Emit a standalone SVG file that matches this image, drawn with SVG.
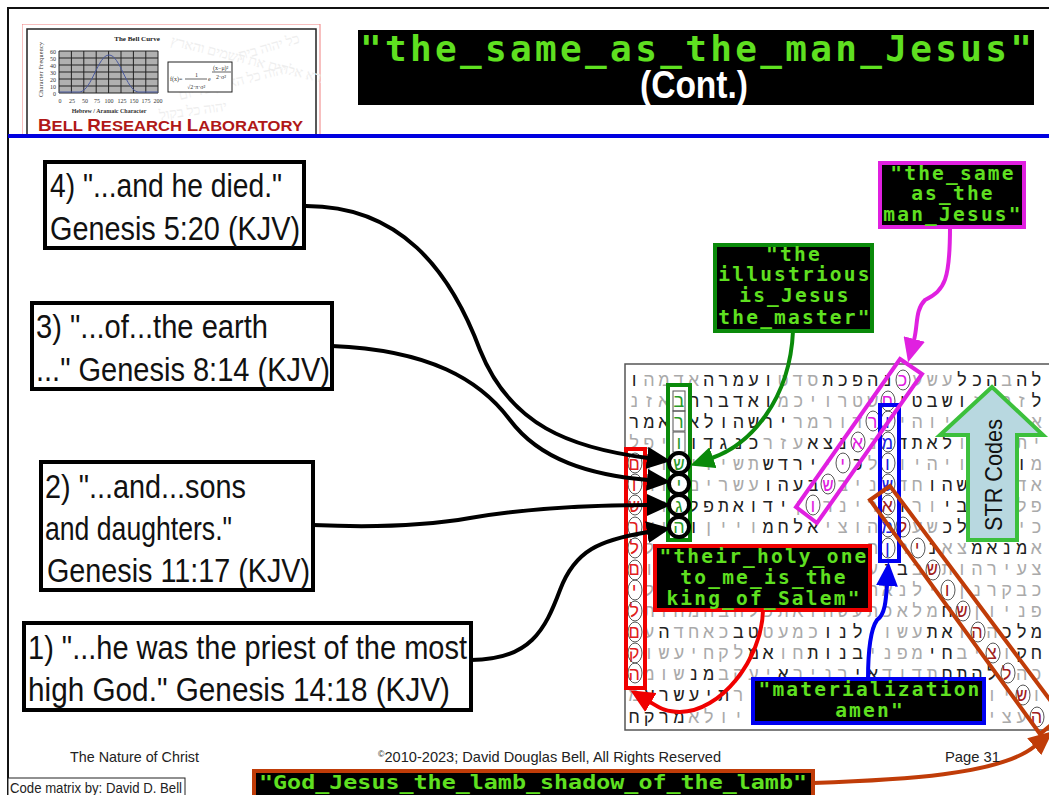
<svg xmlns="http://www.w3.org/2000/svg" width="1049" height="795" viewBox="0 0 1049 795">
<style>
.ref{font-family:"Liberation Sans",Arial,sans-serif;font-size:33px;fill:#111}
.box{fill:#fff;stroke:#000;stroke-width:4}
.lab{fill:#000;stroke-width:4}
.code{font-family:"DejaVu Sans Mono",monospace;font-weight:bold;font-size:19.500px;letter-spacing:2.200px;fill:#5fe020;text-anchor:middle}
.heb{font-family:"Liberation Mono","DejaVu Sans Mono",monospace;font-size:18px;letter-spacing:4.100px;fill:#222;direction:rtl;unicode-bidi:embed}
.heb .g{fill:#aaa}
.heb .m{fill:#e020e0}.heb .r{fill:#e02020}.heb .b{fill:#2020e0}.heb .v{fill:#2a9a2a}.heb .o{fill:#a02020}
.cell{fill:none;stroke:#555;stroke-width:1}
.hole{fill:none;stroke:#000;stroke-width:4}
.line{fill:none;stroke-width:4}
.foot{font-family:"Liberation Sans",Arial,sans-serif;font-size:15px;fill:#222}
.tiny{font-family:"Liberation Serif",serif;font-size:6px;fill:#333}
.wm{font-family:"Liberation Serif","DejaVu Sans",serif;font-size:14px;fill:#eeeeee}
.frame{stroke-width:4;fill:none}
</style>
<defs>
<marker id="hk" markerUnits="userSpaceOnUse" markerWidth="24" markerHeight="22" refX="1" refY="11" orient="auto"><path d="M0 0L24 11L0 22z" fill="#000"/></marker>
<marker id="hg" markerUnits="userSpaceOnUse" markerWidth="24" markerHeight="22" refX="1" refY="11" orient="auto"><path d="M0 0L24 11L0 22z" fill="#0a8a0a"/></marker>
<marker id="hm" markerUnits="userSpaceOnUse" markerWidth="24" markerHeight="22" refX="1" refY="11" orient="auto"><path d="M0 0L24 11L0 22z" fill="#e020e0"/></marker>
<marker id="hb" markerUnits="userSpaceOnUse" markerWidth="24" markerHeight="22" refX="1" refY="11" orient="auto"><path d="M0 0L24 11L0 22z" fill="#0000f0"/></marker>
<marker id="hr" markerUnits="userSpaceOnUse" markerWidth="24" markerHeight="22" refX="1" refY="11" orient="auto"><path d="M0 0L24 11L0 22z" fill="#f00000"/></marker>
<marker id="ho" markerUnits="userSpaceOnUse" markerWidth="24" markerHeight="22" refX="1" refY="11" orient="auto"><path d="M0 0L24 11L0 22z" fill="#c03c08"/></marker>
<clipPath id="lc"><rect x="22" y="24" width="299" height="111"/></clipPath>
</defs>
<rect width="1049" height="795" fill="#fff"/>

<g id="logo" clip-path="url(#lc)">
<rect x="22" y="24" width="298" height="120" fill="#fff" stroke="#f08080" stroke-width="1"/>
<rect x="27" y="29" width="289" height="120" fill="#fff" stroke="#222" stroke-width="1.500"/>
<g class="wm">
<text transform="translate(170 45) rotate(14)">ברא אלהים את השמים והארץ</text>
<text transform="translate(180 100) rotate(-14)">יהוה כל הארץ כל יום</text>
<text transform="translate(240 60) rotate(-16)">כל יהוה בית</text>
<text transform="translate(160 120) rotate(-8)">יהוה כל בקול</text>
</g>
<text x="137" y="41" text-anchor="middle" font-family="Liberation Serif,serif" font-weight="bold" font-size="7px" fill="#222">The Bell Curve</text>
<rect x="59" y="51" width="99" height="42" fill="#b0b0b0"/>
<path d="M59 51V93M71.400 51V93M83.800 51V93M96.200 51V93M108.600 51V93M121 51V93M133.400 51V93M145.800 51V93M158 51V93M59 51H158M59 58H158M59 65H158M59 72H158M59 79H158M59 86H158M59 93H158" stroke="#222" stroke-width="1" fill="none"/>
<path d="M59 92H80C92 90 98 55 109 55C120 55 126 90 138 92H158" fill="none" stroke="#4a5aa0" stroke-width="1"/>
<text class="tiny" transform="translate(43 97) rotate(-90)" textLength="55">Character Frequency</text>
<g class="tiny" text-anchor="end">
<text x="56" y="54">60</text><text x="56" y="61">50</text><text x="56" y="68">40</text><text x="56" y="75">30</text><text x="56" y="82">20</text><text x="56" y="89">10</text><text x="56" y="96">0</text>
</g>
<g class="tiny" text-anchor="middle">
<text x="60" y="103">0</text><text x="72" y="103">25</text><text x="85" y="103">50</text><text x="97" y="103">75</text><text x="109" y="103">100</text><text x="122" y="103">125</text><text x="134" y="103">150</text><text x="146" y="103">175</text><text x="158" y="103">200</text>
<text x="109" y="113" font-weight="bold">Hebrew / Aramaic Character</text>
</g>
<rect x="168" y="62" width="64" height="30" fill="#fff" stroke="#222" stroke-width="1"/>
<text class="tiny" x="170" y="81">f(x)=</text>
<text class="tiny" x="195" y="77">1</text>
<path d="M185 79H207M212 72H231" stroke="#222" stroke-width=".7"/>
<text class="tiny" x="187" y="89">√2·π·σ²</text>
<text class="tiny" x="208" y="81">e</text>
<text class="tiny" x="213" y="70">(x−μ)²</text>
<text class="tiny" x="216" y="79">2·σ²</text>
<text x="38" y="131" font-family="Liberation Sans,sans-serif" font-weight="bold" font-size="15px" fill="#b01818" textLength="265" lengthAdjust="spacingAndGlyphs"><tspan font-size="17px">B</tspan>ELL <tspan font-size="17px">R</tspan>ESEARCH <tspan font-size="17px">L</tspan>ABORATORY</text>
</g>

<path id="slide-frame" d="M8 795V8H1049" fill="none" stroke="#111" stroke-width="2"/>
<rect id="rule" x="8" y="134" width="1041" height="4" fill="#0000e0"/>

<g id="title">
<rect x="358" y="30" width="676" height="75" fill="#000"/>
<text x="696" y="61" font-family="DejaVu Sans Mono,monospace" font-weight="bold" font-size="36px" fill="#5fe020" text-anchor="middle" textLength="672" lengthAdjust="spacing">"the_same_as_the_man_Jesus"</text>
<text x="694" y="98" font-family="Liberation Sans,sans-serif" font-weight="bold" font-size="38px" fill="#fff" text-anchor="middle" textLength="108" lengthAdjust="spacingAndGlyphs">(Cont.)</text>
</g>

<g id="ref-4">
<rect class="box" x="45" y="162" width="259" height="86"/>
<text class="ref" x="50" y="197" textLength="232" lengthAdjust="spacingAndGlyphs">4) "...and he died."</text>
<text class="ref" x="50" y="240" textLength="250" lengthAdjust="spacingAndGlyphs">Genesis 5:20 (KJV)</text>
</g>
<g id="ref-3">
<rect class="box" x="32" y="303" width="300" height="86"/>
<text class="ref" x="36" y="338" textLength="232" lengthAdjust="spacingAndGlyphs">3) "...of...the earth</text>
<text class="ref" x="36" y="381" textLength="294" lengthAdjust="spacingAndGlyphs">..." Genesis 8:14 (KJV)</text>
</g>
<g id="ref-2">
<rect class="box" x="41" y="462" width="272" height="128"/>
<text class="ref" x="45" y="498" textLength="201" lengthAdjust="spacingAndGlyphs">2) "...and...sons</text>
<text class="ref" x="45" y="540" textLength="187" lengthAdjust="spacingAndGlyphs">and daughters."</text>
<text class="ref" x="47" y="582" textLength="263" lengthAdjust="spacingAndGlyphs">Genesis 11:17 (KJV)</text>
</g>
<g id="ref-1">
<rect class="box" x="24" y="623" width="447" height="87"/>
<text class="ref" x="28" y="659" textLength="439" lengthAdjust="spacingAndGlyphs">1) "...he was the priest of the most</text>
<text class="ref" x="28" y="701" textLength="422" lengthAdjust="spacingAndGlyphs">high God." Genesis 14:18 (KJV)</text>
</g>

<g id="code-matrix">
<rect x="625" y="364" width="430" height="366" fill="#fff" stroke="#555" stroke-width="1.500"/>
<g class="heb">
<text x="1046" y="386">לה<tspan class="g">ב</tspan>הכל<tspan class="g">עשע</tspan><tspan class="m">כ</tspan>נהפכת<tspan class="g">סדט</tspan>ועמרה<tspan class="g">אדמה</tspan>ו</text>
<text x="1046" y="407">ל<tspan class="g">זר</tspan>ב<tspan class="g">ז</tspan>ושבטי<tspan class="m">ח</tspan><tspan class="g">שטרויכמ</tspan>ואדברה<tspan class="v">ב</tspan><tspan class="g">אזנ</tspan></text>
<text x="1046" y="428"><tspan class="g">אלעהוהיוהי</tspan><tspan class="b">ו</tspan><tspan class="m">ר</tspan><tspan class="g">דורמר</tspan>ירשהולא<tspan class="v">ר</tspan>אמר</text>
<text x="1046" y="449"><tspan class="g">ית</tspan>ו<tspan class="g">ה</tspan>ר<tspan class="g">ו</tspan>לאתד<tspan class="b">מ</tspan><tspan class="g">נ</tspan><tspan class="m">א</tspan>נצא<tspan class="g">עזר</tspan>כנגדו<tspan class="v">ו</tspan><tspan class="g">יפל</tspan></text>
<text x="1046" y="470"><tspan class="g">מ</tspan>ו<tspan class="g">תו</tspan>ת<tspan class="g">ויהיו</tspan><tspan class="b">ו</tspan><tspan class="g">ל</tspan>כ<tspan class="m">י</tspan><tspan class="g">י</tspan>ירדש<tspan class="g">תשיוי</tspan><tspan class="v">ש</tspan><tspan class="g">וו</tspan><tspan class="r">ם</tspan></text>
<text x="1046" y="491"><tspan class="g">אד</tspan>בחדשהו<tspan class="g">חד</tspan><tspan class="b">ש</tspan><tspan class="g">ניב</tspan><tspan class="m">ש</tspan>בעהו<tspan class="g">עשרים</tspan><tspan class="v">י</tspan><tspan class="g">וה</tspan><tspan class="r">ו</tspan></text>
<text x="1046" y="512"><tspan class="g">פלחי</tspan>עבי<tspan class="g">ור</tspan>ו<tspan class="o">א</tspan><tspan class="g">רינר</tspan><tspan class="m">ו</tspan><tspan class="g">ן</tspan>ידואתפל<tspan class="v">ג</tspan><tspan class="g">ונ</tspan><tspan class="r">ש</tspan></text>
<text x="1046" y="533"><tspan class="g">כיטו</tspan>מלכ<tspan class="g">שע</tspan><tspan class="o">ל</tspan><tspan class="b">מ</tspan><tspan class="g">הוצי</tspan>אלחמ<tspan class="g">ויין</tspan>ו<tspan class="v">ה</tspan><tspan class="g">וא</tspan><tspan class="r">ר</tspan></text>
<text x="1046" y="554"><tspan class="g">א</tspan>מנאמ<tspan class="g">צא</tspan>נ<tspan class="o">י</tspan><tspan class="g">ת</tspan><tspan class="b">ן</tspan><tspan class="g">ה</tspan></text>
<text x="658.600" y="554"><tspan class="g">ל</tspan><tspan class="r">ל</tspan></text>
<text x="1046" y="575"><tspan class="g">צעירהות</tspan><tspan class="o">ש</tspan><tspan class="g">ב</tspan>בנ<tspan class="g">ע</tspan></text>
<text x="658.600" y="575"><tspan class="g">ו</tspan><tspan class="r">ם</tspan></text>
<text x="1046" y="596"><tspan class="g">כבקרנן</tspan><tspan class="o">ו</tspan><tspan class="g">ילנאה</tspan></text>
<text x="658.600" y="596"><tspan class="g">ל</tspan><tspan class="r">י</tspan></text>
<text x="1046" y="617"><tspan class="g">פניון</tspan><tspan class="o">ש</tspan>ח<tspan class="g">מלאכ</tspan><tspan class="g">תעשהואתכלהבהמהות</tspan><tspan class="r">ל</tspan></text>
<text x="1046" y="638">מלכ<tspan class="g">ה</tspan><tspan class="o">ה</tspan><tspan class="g">ו</tspan>את<tspan class="g">עשוי</tspan>לנו<tspan class="g">כמעט</tspan>טב<tspan class="g">כאחד</tspan>ה<tspan class="g">ע</tspan><tspan class="r">ם</tspan></text>
<text x="1046" y="659">חק<tspan class="g">ו</tspan><tspan class="o">צ</tspan><tspan class="g">יב</tspan>חי<tspan class="g">מפני</tspan>בנות<tspan class="g">חו</tspan>אמ<tspan class="g">לקחיעשו</tspan><tspan class="r">ק</tspan></text>
<text x="1046" y="680"><tspan class="g">כה</tspan><tspan class="o">ל</tspan>להתח<tspan class="g">תדוד</tspan>אי<tspan class="g">רניר</tspan>א<tspan class="g">יעקב</tspan>מנ<tspan class="g">שומ</tspan><tspan class="r">ה</tspan></text>
<text x="1046" y="701"><tspan class="g">ו</tspan><tspan class="o">ש</tspan><tspan class="g">יו</tspan></text>
<text x="748" y="701"><tspan class="g">ר</tspan>תיעשרע<tspan class="g">מ</tspan></text>
<text x="1046" y="723"><tspan class="o">ה</tspan><tspan class="g">עצי</tspan></text>
<text x="748" y="723"><tspan class="g">יולא</tspan>מרקח</text>
</g>
<g class="cell">
<ellipse cx="903" cy="380" rx="7" ry="10"/><ellipse cx="888" cy="401" rx="7" ry="10"/><ellipse cx="873" cy="421" rx="7" ry="10"/><ellipse cx="858" cy="442" rx="7" ry="10"/><ellipse cx="843" cy="463" rx="7" ry="10"/><ellipse cx="828" cy="484" rx="7" ry="10"/><ellipse cx="813" cy="505" rx="7" ry="10"/>
<ellipse cx="888" cy="421" rx="7" ry="10"/><ellipse cx="888" cy="442" rx="7" ry="10"/><ellipse cx="888" cy="463" rx="7" ry="10"/><ellipse cx="888" cy="484" rx="7" ry="10"/><ellipse cx="888" cy="505" rx="7" ry="10"/><ellipse cx="888" cy="527" rx="7" ry="10"/><ellipse cx="888" cy="548" rx="7" ry="10"/>
<ellipse cx="903" cy="527" rx="7" ry="10"/><ellipse cx="918" cy="548" rx="7" ry="10"/><ellipse cx="933" cy="570" rx="7" ry="10"/><ellipse cx="948" cy="590" rx="7" ry="10"/><ellipse cx="963" cy="611" rx="7" ry="10"/><ellipse cx="978" cy="632" rx="7" ry="10"/><ellipse cx="993" cy="653" rx="7" ry="10"/><ellipse cx="1008" cy="673" rx="7" ry="10"/><ellipse cx="1023" cy="695" rx="7" ry="10"/><ellipse cx="1037" cy="717" rx="7" ry="10"/>
<ellipse cx="635" cy="463" rx="7" ry="10"/><ellipse cx="635" cy="484" rx="7" ry="10"/><ellipse cx="635" cy="505" rx="7" ry="10"/><ellipse cx="635" cy="527" rx="7" ry="10"/><ellipse cx="635" cy="548" rx="7" ry="10"/><ellipse cx="635" cy="570" rx="7" ry="10"/><ellipse cx="635" cy="590" rx="7" ry="10"/><ellipse cx="635" cy="611" rx="7" ry="10"/><ellipse cx="635" cy="632" rx="7" ry="10"/><ellipse cx="635" cy="653" rx="7" ry="10"/><ellipse cx="635" cy="673" rx="7" ry="10"/>
<rect x="673" y="391" width="12" height="20"/><rect x="673" y="411" width="12" height="20"/><rect x="673" y="432" width="12" height="20"/>
</g>
</g>

<g id="hl-green"><rect class="frame" x="668" y="385" width="22" height="155" stroke="#0a8a0a"/></g>
<g id="hl-red"><rect class="frame" x="626" y="449" width="19" height="239" stroke="#f00000"/></g>
<g id="hl-blue"><rect class="frame" x="880" y="405" width="19" height="156" stroke="#0000f0"/></g>
<g id="hl-magenta"><polygon class="frame" points="900,359 922,374 817,523 796,507" stroke="#e020e0"/></g>
<g id="hl-brown"><polygon class="frame" points="870,500 890,486 1062,716 1040,734" stroke="#c03c08"/></g>
<g id="holes">
<circle class="hole" cx="679" cy="463" r="10"/><circle class="hole" cx="679" cy="484" r="10"/><circle class="hole" cx="679" cy="505" r="10"/><circle class="hole" cx="679" cy="527" r="10"/>
</g>

<g id="str-codes">
<polygon points="992,387 940,435 968,435 968,540 1017,540 1017,435 1043,435" fill="#b8d8e0" stroke="#3cc03c" stroke-width="4"/>
<text transform="translate(1002 531) rotate(-90)" font-family="Liberation Sans,sans-serif" font-size="24px" fill="#111" textLength="112" lengthAdjust="spacingAndGlyphs">STR Codes</text>
</g>

<g id="connectors" class="line">
<path class="line" stroke="#000" marker-end="url(#hk)" d="M304 206C400 205 450 270 480 350C510 425 570 448 648 458"/>
<path class="line" stroke="#000" marker-end="url(#hk)" d="M332 346C430 350 480 380 510 420C540 460 590 475 648 480"/>
<path class="line" stroke="#000" marker-end="url(#hk)" d="M313 525C380 528 430 525 470 518C530 508 590 505 648 505"/>
<path class="line" stroke="#000" marker-end="url(#hk)" d="M471 660C530 660 545 630 560 590C575 550 600 540 648 532"/>
<path class="line" stroke="#0a8a0a" marker-end="url(#hg)" d="M793 331C790 400 750 445 712 458"/>
<path class="line" stroke="#e020e0" marker-end="url(#hm)" d="M950 227C950 280 945 290 925 300C915 310 918 325 914 340"/>
<path class="line" stroke="#0000f0" marker-end="url(#hb)" d="M868 680C868 650 870 630 877 620C885 615 886 600 887 585"/>
<path class="line" stroke="#f00000" marker-end="url(#hr)" d="M763 610C762 660 720 712 680 712C665 712 660 708 650 702"/>
<path class="line" stroke="#c03c08" marker-end="url(#ho)" d="M813 783C900 780 1000 775 1035 746"/>
</g>

<g id="label-magenta">
<rect class="lab" x="880" y="163" width="144" height="64" stroke="#e020e0"/>
<text class="code" x="953" y="180">"the_same</text><text class="code" x="953" y="200">as_the</text><text class="code" x="953" y="221">man_Jesus"</text>
</g>
<g id="label-green">
<rect class="lab" x="715" y="245" width="157" height="86" stroke="#0a8a0a"/>
<text class="code" x="794" y="261">"the</text><text class="code" x="795" y="281">illustrious</text><text class="code" x="795" y="302">is_Jesus</text><text class="code" x="795" y="324">the_master"</text>
</g>
<g id="label-red">
<rect class="lab" x="655" y="546" width="215" height="64" stroke="#f00000"/>
<text class="code" x="764" y="563">"their_holy_one</text><text class="code" x="764" y="584">to_me_is_the</text><text class="code" x="764" y="605">king_of_Salem"</text>
</g>
<g id="label-blue">
<rect class="lab" x="753" y="679" width="231" height="44" stroke="#0000f0"/>
<text class="code" x="870" y="696">"materialization</text><text class="code" x="870" y="717">amen"</text>
</g>
<g id="label-brown">
<rect class="lab" x="254" y="771" width="559" height="26" stroke="#c03c08"/>
<text x="533" y="789" font-family="DejaVu Sans Mono,monospace" font-weight="bold" font-size="20px" fill="#5fe020" text-anchor="middle" textLength="548" lengthAdjust="spacingAndGlyphs">"God_Jesus_the_lamb_shadow_of_the_lamb"</text>
</g>

<g id="footer">
<text class="foot" x="70" y="762" textLength="129" lengthAdjust="spacingAndGlyphs">The Nature of Christ</text>
<text class="foot" x="378" y="762" textLength="343" lengthAdjust="spacingAndGlyphs"><tspan font-size="9px" dy="-5">©</tspan><tspan dy="5">2010-2023;  David Douglas Bell, All Rights Reserved</tspan></text>
<text class="foot" x="945" y="762" textLength="55" lengthAdjust="spacingAndGlyphs">Page 31</text>
<rect x="8" y="778" width="177" height="20" fill="#fff" stroke="#222" stroke-width="1"/>
<text class="foot" x="10" y="793" textLength="172" lengthAdjust="spacingAndGlyphs">Code matrix by: David D. Bell</text>
</g>
</svg>
